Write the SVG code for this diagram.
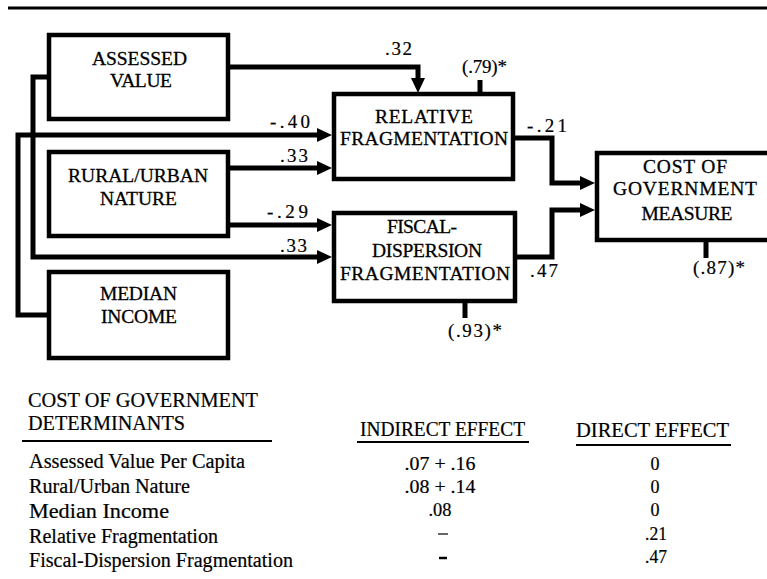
<svg xmlns="http://www.w3.org/2000/svg" width="767" height="579" viewBox="0 0 767 579">
<style>
.box{fill:#fff;stroke:#000;stroke-width:4.5}
.lbl{font-family:"Liberation Serif","Times New Roman",serif;font-size:19.5px;fill:#000;stroke:#000;stroke-width:0.3;text-anchor:middle}
.num{font-family:"Liberation Serif","Times New Roman",serif;font-size:19px;fill:#000;stroke:#000;stroke-width:0.2}
.tb{font-family:"Liberation Serif","Times New Roman",serif;font-size:20px;fill:#000;stroke:#000;stroke-width:0.2}
.tc{font-family:"Liberation Serif","Times New Roman",serif;font-size:18px;fill:#000;stroke:#000;stroke-width:0.2;text-anchor:middle}
.edge{fill:none;stroke:#000;stroke-width:5;stroke-linejoin:miter}
.rule{stroke:#000;stroke-width:2}
</style>
<defs>
<marker id="ah" markerUnits="userSpaceOnUse" markerWidth="16" markerHeight="14" refX="1" refY="7" orient="auto">
<path d="M0,0 L15,7 L0,14 Z" fill="#000"/>
</marker>
</defs>
<rect width="767" height="579" fill="#fff"/>
<line x1="8" y1="8" x2="767" y2="8" stroke="#000" stroke-width="3"/>

<g id="connectors">
<path class="edge" d="M230,67 H418 V79" marker-end="url(#ah)"/>
<path class="edge" d="M47,315 H18 V135 H318" marker-end="url(#ah)"/>
<path class="edge" d="M230,168 H318" marker-end="url(#ah)"/>
<path class="edge" d="M230,225 H318" marker-end="url(#ah)"/>
<path class="edge" d="M47,77 H33 V257 H318" marker-end="url(#ah)"/>
<path class="edge" d="M513,138 H552 V183 H581" marker-end="url(#ah)"/>
<path class="edge" d="M517,257 H552 V210 H581" marker-end="url(#ah)"/>
<path class="edge" d="M480,93 V80"/>
<path class="edge" d="M465,303 V318"/>
<path class="edge" d="M706,242 V258"/>
<text class="num" x="385" y="55" textLength="27">.32</text>
<text class="num" x="270" y="128" textLength="40">-.40</text>
<text class="num" x="280" y="162" textLength="28">.33</text>
<text class="num" x="267" y="218" textLength="41">-.29</text>
<text class="num" x="280" y="252" textLength="27">.33</text>
<text class="num" x="527" y="132" textLength="40">-.21</text>
<text class="num" x="530" y="277" textLength="28">.47</text>
<text class="num" x="462" y="73" textLength="45">(.79)*</text>
<text class="num" x="448" y="337" textLength="54">(.93)*</text>
<text class="num" x="693" y="274" textLength="52">(.87)*</text>
</g>

<g id="assessed-value">
<rect class="box" x="49" y="35" width="179" height="84"/>
<text class="lbl" x="139.5" y="65" textLength="95">ASSESSED</text>
<text class="lbl" x="141" y="87" textLength="62">VALUE</text>
</g>
<g id="rural-urban">
<rect class="box" x="49" y="152" width="179" height="84"/>
<text class="lbl" x="138" y="182" textLength="140">RURAL/URBAN</text>
<text class="lbl" x="138.5" y="205" textLength="77">NATURE</text>
</g>
<g id="median-income">
<rect class="box" x="49" y="272" width="179" height="86"/>
<text class="lbl" x="138.5" y="300" textLength="77">MEDIAN</text>
<text class="lbl" x="139" y="323" textLength="76">INCOME</text>
</g>
<g id="relative-fragmentation">
<rect class="box" x="334" y="94" width="179" height="85"/>
<text class="lbl" x="424" y="123" textLength="98">RELATIVE</text>
<text class="lbl" x="424" y="145" textLength="168">FRAGMENTATION</text>
</g>
<g id="fiscal-dispersion">
<rect class="box" x="334" y="213" width="181" height="88"/>
<text class="lbl" x="422" y="233" textLength="70">FISCAL-</text>
<text class="lbl" x="427" y="257" textLength="110">DISPERSION</text>
<text class="lbl" x="425" y="280" textLength="170">FRAGMENTATION</text>
</g>
<g id="cost-of-government">
<rect class="box" x="597" y="153" width="200" height="87"/>
<text class="lbl" x="685" y="173" textLength="84">COST OF</text>
<text class="lbl" x="685" y="195" textLength="144">GOVERNMENT</text>
<text class="lbl" x="687" y="220" textLength="91">MEASURE</text>
</g>

<g id="table">
<text class="tb" x="28" y="407" textLength="230" lengthAdjust="spacingAndGlyphs">COST OF GOVERNMENT</text>
<text class="tb" x="28" y="430" textLength="157" lengthAdjust="spacingAndGlyphs">DETERMINANTS</text>
<line class="rule" x1="22" y1="441" x2="272" y2="441"/>
<text class="tb" x="360" y="436" textLength="165" lengthAdjust="spacingAndGlyphs">INDIRECT EFFECT</text>
<line class="rule" x1="357" y1="442" x2="529" y2="442"/>
<text class="tb" x="576" y="437" textLength="153" lengthAdjust="spacingAndGlyphs">DIRECT EFFECT</text>
<line class="rule" x1="576" y1="445" x2="731" y2="445"/>

<text class="tb" x="29" y="468" textLength="216" lengthAdjust="spacingAndGlyphs">Assessed Value Per Capita</text>
<text class="tb" x="29" y="493" textLength="161" lengthAdjust="spacingAndGlyphs">Rural/Urban Nature</text>
<text class="tb" x="29" y="518" textLength="140" lengthAdjust="spacingAndGlyphs">Median Income</text>
<text class="tb" x="29" y="543" textLength="189" lengthAdjust="spacingAndGlyphs">Relative Fragmentation</text>
<text class="tb" x="29" y="567" textLength="264" lengthAdjust="spacingAndGlyphs">Fiscal-Dispersion Fragmentation</text>

<text class="tc" x="440" y="470" textLength="71" lengthAdjust="spacingAndGlyphs">.07 + .16</text>
<text class="tc" x="440" y="493" textLength="71" lengthAdjust="spacingAndGlyphs">.08 + .14</text>
<text class="tc" x="440" y="516" textLength="23" lengthAdjust="spacingAndGlyphs">.08</text>
<line x1="438" y1="534" x2="448" y2="534" stroke="#000" stroke-width="1.2"/>
<line x1="439" y1="558" x2="447" y2="558" stroke="#000" stroke-width="2.5"/>

<text class="tc" x="655" y="470">0</text>
<text class="tc" x="655" y="493">0</text>
<text class="tc" x="655" y="516">0</text>
<text class="tc" x="656" y="540" textLength="22" lengthAdjust="spacingAndGlyphs">.21</text>
<text class="tc" x="656" y="563" textLength="22" lengthAdjust="spacingAndGlyphs">.47</text>
</g>
</svg>
